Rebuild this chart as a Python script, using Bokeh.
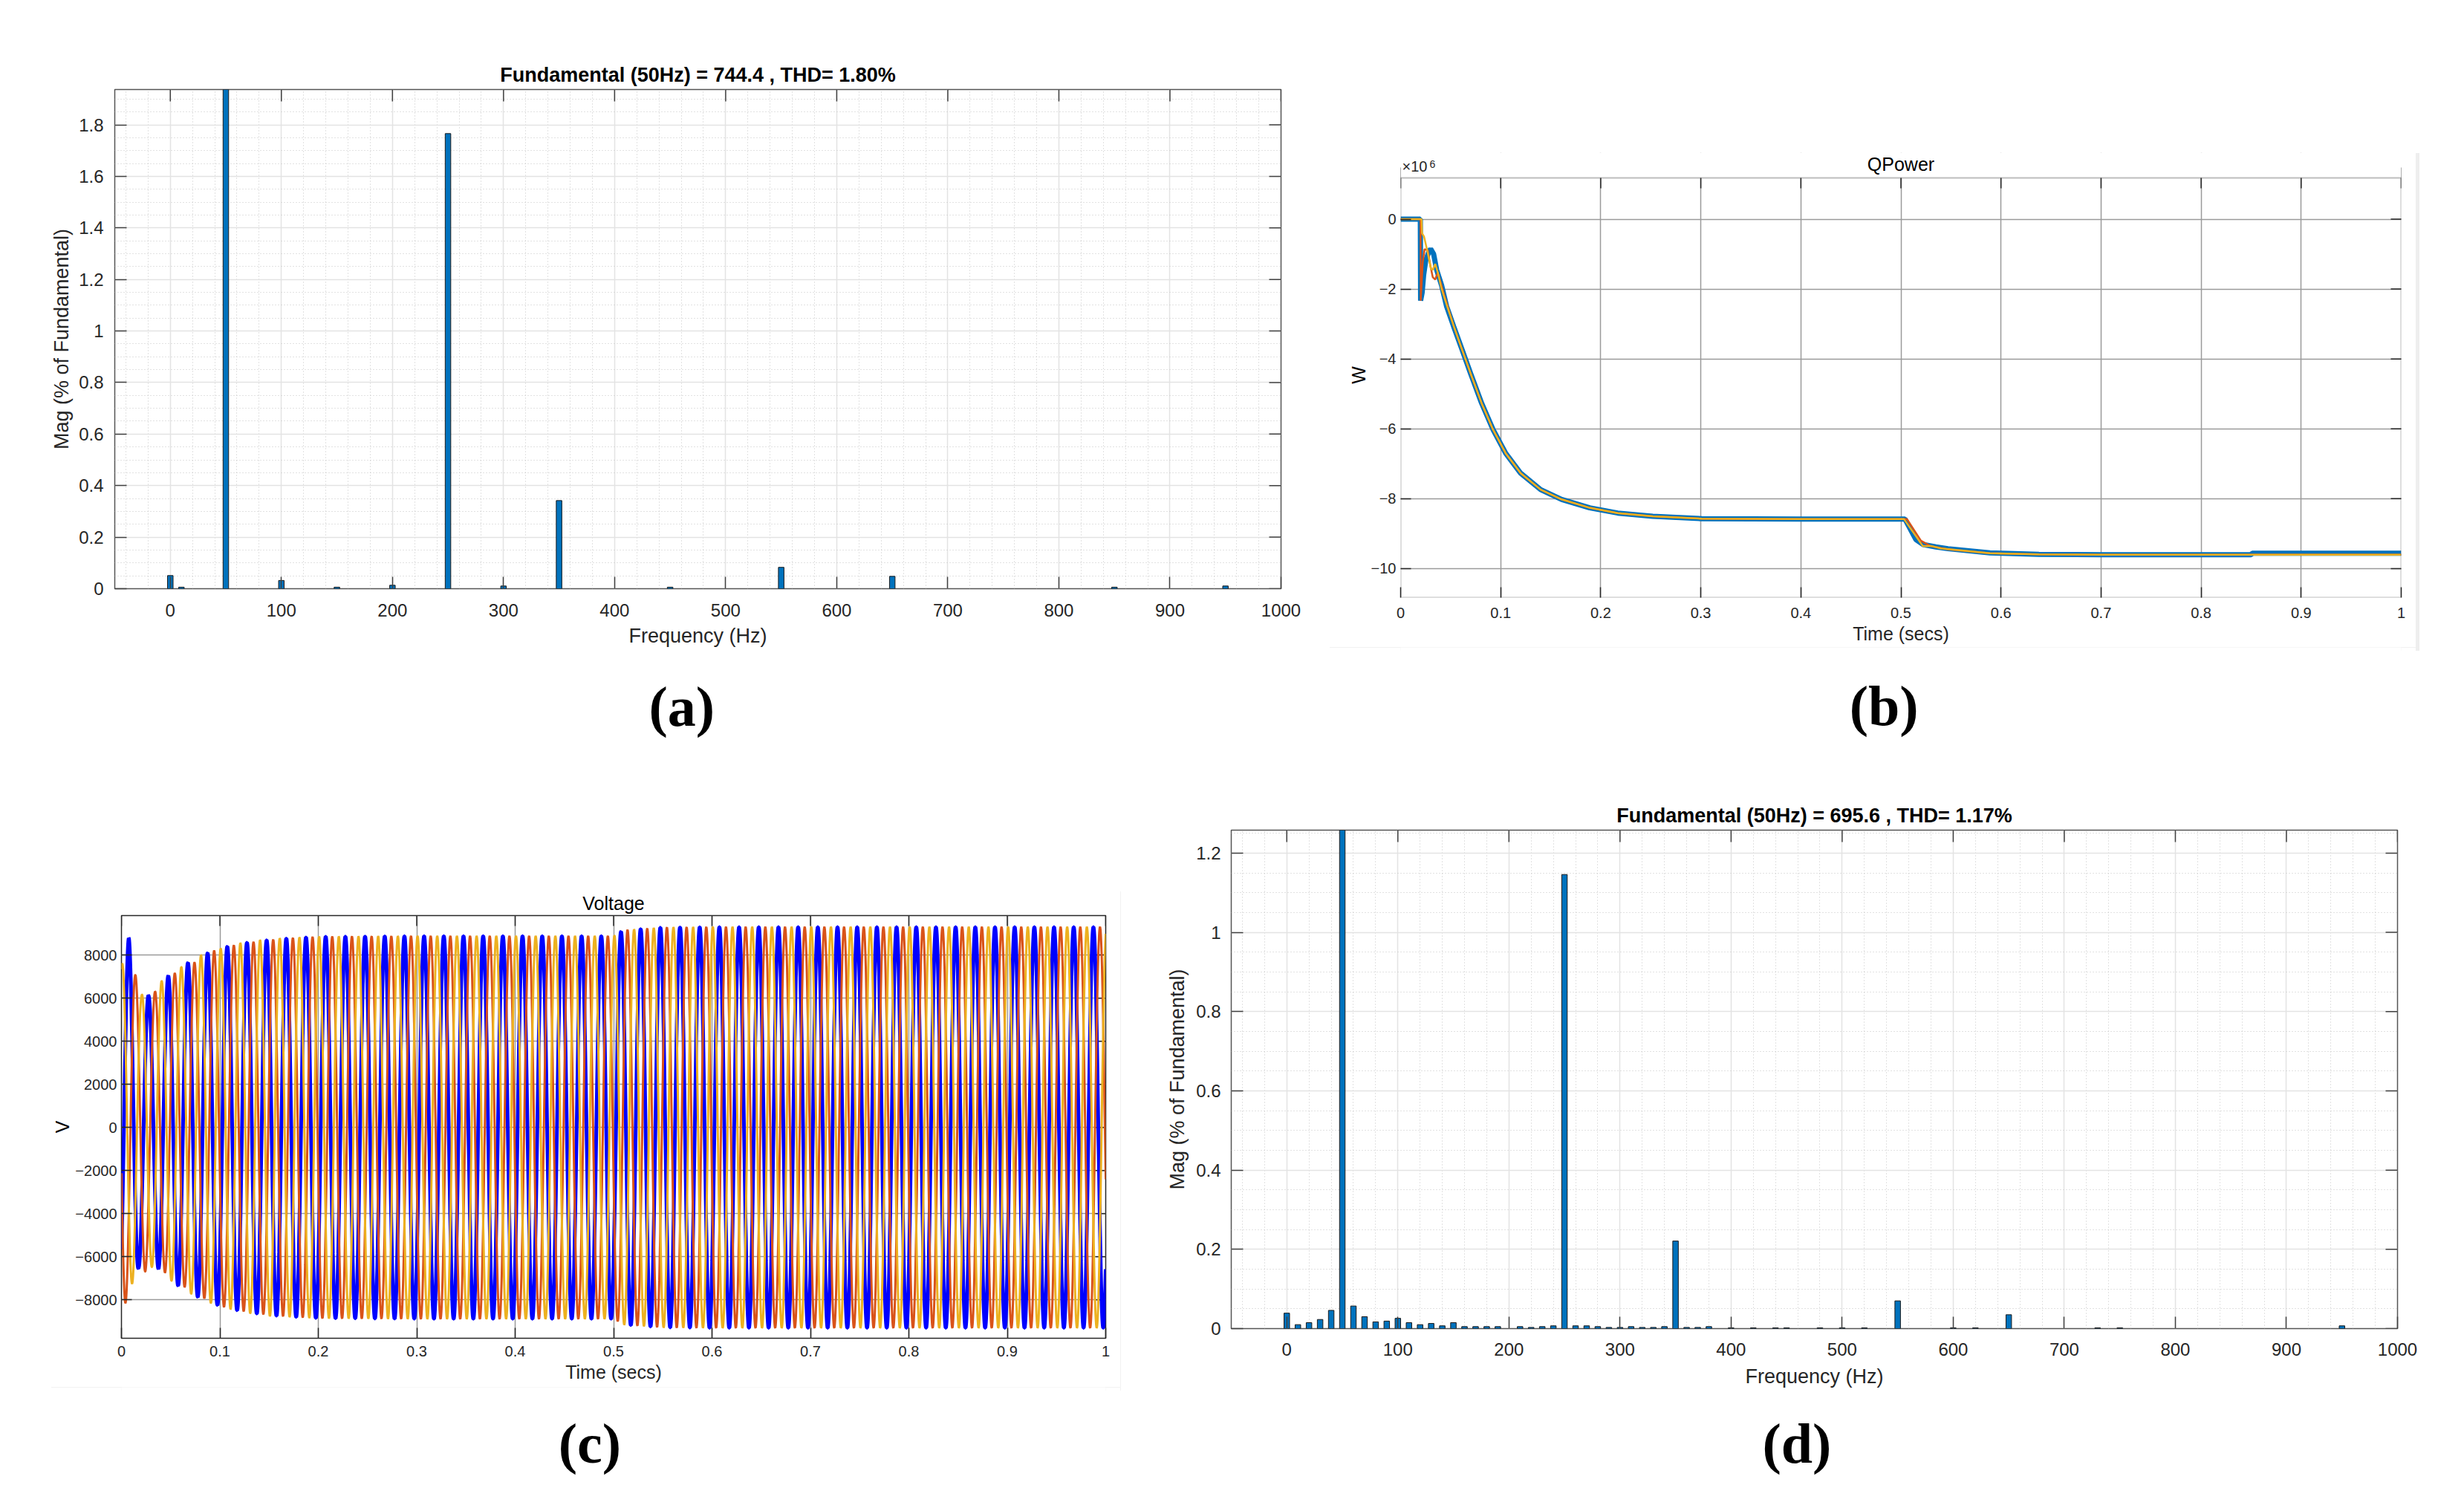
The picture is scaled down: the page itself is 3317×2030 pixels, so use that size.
import numpy as np
from bokeh.plotting import figure
from bokeh.models import Range1d, FixedTicker, Label, BoxAnnotation, Spacer
from bokeh.layouts import row, column
from bokeh.embed import file_html
from bokeh.resources import INLINE

SANS = "Liberation Sans"
SERIF = "Liberation Serif"
INK = "#262626"
BAR_BLUE = "#0072BD"
M_BLUE = "#0072BD"
M_RED = "#D95319"
M_YEL = "#EDB120"
V_BLUE = "#0000FF"

# ---------------- (a) FFT spectrum ----------------
a_title = "Fundamental (50Hz) = 744.4 , THD= 1.80%"
a_freq = [0, 10, 50, 100, 150, 200, 250, 300, 350, 450, 550, 650, 850, 950]
a_mag = [0.051, 0.006, 100.0, 0.032, 0.006, 0.0135, 1.766, 0.0105, 0.342, 0.006, 0.083, 0.048, 0.006, 0.0105]
a_yticks = [0, 0.2, 0.4, 0.6, 0.8, 1.0, 1.2, 1.4, 1.6, 1.8]
a_ytop = 1.937

# ---------------- (d) FFT spectrum ----------------
d_title = "Fundamental (50Hz) = 695.6 , THD= 1.17%"
d_freq = [0, 10, 20, 30, 40, 50, 60, 70, 80, 90, 100, 110, 120, 130, 140, 150, 160, 170, 180, 190,
          210, 220, 230, 240, 250, 260, 270, 280, 290, 300, 310, 320, 330, 340, 350, 360, 370, 380,
          400, 420, 440, 450, 480, 500, 520,
          550, 600, 620, 650, 730, 750, 950]
d_mag = [0.039, 0.010, 0.015, 0.023, 0.046, 100.0, 0.057, 0.030, 0.017, 0.019, 0.026, 0.015, 0.010, 0.013, 0.007, 0.015, 0.005, 0.005, 0.005, 0.005,
         0.005, 0.003, 0.005, 0.007, 1.146, 0.007, 0.007, 0.005, 0.003, 0.003, 0.005, 0.003, 0.003, 0.005, 0.221, 0.003, 0.003, 0.005,
         0.002, 0.002, 0.002, 0.002, 0.002, 0.002, 0.002,
         0.070, 0.002, 0.002, 0.035, 0.002, 0.002, 0.007]
d_yticks = [0, 0.2, 0.4, 0.6, 0.8, 1.0, 1.2]
d_ytop = 1.258
assert len(d_freq) == len(d_mag)

freq_ticks = list(range(0, 1001, 100))
time_ticks = [round(0.1 * i, 1) for i in range(11)]

# ---------------- (b) QPower (x10^6 W) ----------------
q_title = "QPower"
q_scale_base = "×10"
q_scale_exp = "6"
qb_t = [0.0, 0.0197, 0.0200, 0.0215, 0.023, 0.025, 0.028, 0.030, 0.033, 0.036, 0.041, 0.046, 0.053, 0.061,
        0.070, 0.081, 0.0925, 0.105, 0.120, 0.140, 0.161, 0.189, 0.217, 0.252, 0.301, 0.400, 0.504, 0.515,
        0.522, 0.535, 0.547, 0.589, 0.638, 0.700, 0.850, 0.851, 1.0]
qb_q = [0.0, 0.0, -2.33, -2.1, -1.6, -1.2, -0.95, -0.85, -1.0, -1.45, -1.9, -2.5, -3.07, -3.7,
        -4.42, -5.27, -6.03, -6.7, -7.27, -7.74, -8.02, -8.26, -8.41, -8.5, -8.57, -8.58, -8.58, -9.17,
        -9.31, -9.38, -9.43, -9.55, -9.59, -9.6, -9.6, -9.56, -9.56]
qr_t = [0.0, 0.0199, 0.0201, 0.0221, 0.0239, 0.0271, 0.0296, 0.0321, 0.0346, 0.0371, 0.0433, 0.0532, 0.061,
        0.070, 0.081, 0.0925, 0.105, 0.120, 0.140, 0.161, 0.189, 0.217, 0.252, 0.301, 0.400, 0.506, 0.520,
        0.530, 0.547, 0.589, 0.638, 0.700, 1.0]
qr_q = [0.0, 0.0, -2.33, -1.24, -0.86, -0.89, -1.31, -1.66, -1.73, -1.52, -2.15, -3.07, -3.7,
        -4.42, -5.27, -6.03, -6.7, -7.27, -7.74, -8.02, -8.26, -8.41, -8.5, -8.57, -8.58, -8.58, -9.2,
        -9.36, -9.45, -9.56, -9.59, -9.6, -9.6]
qy_t = [0.0, 0.0209, 0.0214, 0.0234, 0.0271, 0.0303, 0.0321, 0.0346, 0.0371, 0.0408, 0.0458, 0.0532, 0.061,
        0.070, 0.081, 0.0925, 0.105, 0.120, 0.140, 0.161, 0.189, 0.217, 0.252, 0.301, 0.400, 0.503, 0.522,
        0.530, 0.540, 0.589, 0.638, 0.700, 1.0]
qy_q = [0.0, 0.0, -0.40, -0.50, -0.96, -1.42, -1.45, -1.28, -1.52, -1.98, -2.43, -3.07, -3.7,
        -4.42, -5.27, -6.03, -6.7, -7.27, -7.74, -8.02, -8.26, -8.41, -8.5, -8.57, -8.58, -8.58, -9.36,
        -9.35, -9.42, -9.56, -9.59, -9.6, -9.6]
q_yticks = [-10, -8, -6, -4, -2, 0]
q_ymin, q_ymax = -10.83, 1.18          # axes limits of the scope
q_head = 0.723                          # room above the axes box (title + exponent) in data units

# ---------------- (c) Voltage: 50 Hz three-phase, peak envelopes ----------------
v_freq = 50.0
v_phase = {"blue": -np.pi / 4, "red": -np.pi / 4 - 2 * np.pi / 3, "yellow": -np.pi / 4 + 2 * np.pi / 3}
vb_env_t = [0.0, 0.0075, 0.0175, 0.028, 0.048, 0.068, 0.088, 0.108, 0.13, 0.16, 0.2, 0.3, 0.5, 0.51, 0.55, 0.6, 1.0]
vb_env_a = [8000, 8800, 6500, 6100, 7050, 7650, 8100, 8400, 8600, 8750, 8850, 8880, 8880, 9150, 9280, 9300, 9300]
vr_env_t = [0.0, 0.0036, 0.0136, 0.034, 0.054, 0.074, 0.094, 0.114, 0.14, 0.17, 0.2, 0.3, 0.5, 0.51, 0.55, 0.6, 1.0]
vr_env_a = [8200, 8200, 7100, 6300, 7150, 7650, 8200, 8450, 8650, 8780, 8850, 8880, 8880, 9150, 9280, 9300, 9300]
vy_env_t = [0.0, 0.0017, 0.012, 0.0204, 0.041, 0.061, 0.081, 0.101, 0.12, 0.15, 0.2, 0.3, 0.5, 0.51, 0.55, 0.6, 1.0]
vy_env_a = [7600, 7600, 7200, 6150, 6800, 7450, 8000, 8300, 8550, 8750, 8850, 8880, 8880, 9150, 9280, 9300, 9300]
v_yticks = [-8000, -6000, -4000, -2000, 0, 2000, 4000, 6000, 8000]
v_ymin, v_ymax = -9780, 9830

t_v = np.arange(0.0, 1.00001, 0.0002)


def wave(env_t, env_a, phase):
    amp = np.interp(t_v, env_t, env_a)
    return amp * np.sin(2 * np.pi * v_freq * t_v + phase)


def inner_ticks(p, xs_top, y_top, ys_right, x_right, length, color):
    # MATLAB-style box ticks on the top and right edges (half of each dash is clipped by the frame)
    p.scatter(x=xs_top, y=[y_top] * len(xs_top), marker="dash", size=2 * length, angle=np.pi / 2,
              line_color=color, line_width=1.5)
    p.scatter(x=[x_right] * len(ys_right), y=ys_right, marker="dash", size=2 * length,
              line_color=color, line_width=1.5)


def style_axes(p, tick_font, lab_font, tick_len, tick_color, xstand, xlabstand, ystand, ylabstand):
    for ax in (p.xaxis[0], p.yaxis[0]):
        ax.major_label_text_font = SANS
        ax.major_label_text_font_size = tick_font
        ax.major_label_text_color = INK
        ax.axis_label_text_font = SANS
        ax.axis_label_text_font_size = lab_font
        ax.axis_label_text_font_style = "normal"
        ax.axis_label_text_color = INK
        ax.major_tick_in = tick_len
        ax.major_tick_out = 0
        ax.major_tick_line_color = tick_color
        ax.major_tick_line_width = 1.5
        ax.minor_tick_line_color = None
        ax.axis_line_color = None
    p.xaxis[0].major_label_standoff = xstand
    p.xaxis[0].axis_label_standoff = xlabstand
    p.yaxis[0].major_label_standoff = ystand
    p.yaxis[0].axis_label_standoff = ylabstand


def spectrum(freq, mag, title, ytop, yticks, w, h, bl, br, bt, bb, xst, xlst, yst, ylst):
    p = figure(width=w, height=h, x_range=Range1d(-50, 1000), y_range=Range1d(0, ytop),
               output_backend="svg", toolbar_location=None, title=title,
               min_border_left=bl, min_border_right=br, min_border_top=bt, min_border_bottom=bb)
    p.title.text_font = SANS
    p.title.text_font_size = "27px"
    p.title.text_font_style = "bold"
    p.title.text_color = "#000000"
    p.title.align = "center"
    p.title.standoff = 10
    xt = FixedTicker(ticks=freq_ticks, minor_ticks=list(range(-40, 1001, 20)))
    nmin = int(ytop / 0.05) + 1
    yt = FixedTicker(ticks=yticks, minor_ticks=[round(0.05 * i, 2) for i in range(nmin)])
    p.xaxis.ticker = xt
    p.yaxis.ticker = yt
    p.xgrid.ticker = xt
    p.ygrid.ticker = yt
    for g in (p.xgrid[0], p.ygrid[0]):
        g.grid_line_color = "#E3E3E3"
        g.grid_line_width = 1.5
        g.minor_grid_line_color = "#C4C4C4"
        g.minor_grid_line_width = 1
        g.minor_grid_line_dash = "1 3"
    p.vbar(x=freq, top=mag, width=5, fill_color=BAR_BLUE, line_color="#1A1A1A", line_width=1)
    p.xaxis.axis_label = "Frequency (Hz)"
    p.yaxis.axis_label = "Mag (% of Fundamental)"
    style_axes(p, "24px", "27px", 16, "#404040", xst, xlst, yst, ylst)
    p.yaxis[0].major_label_overrides = {0: "0", 1: "1"}
    p.outline_line_color = "#555555"
    p.outline_line_width = 1.5
    inner_ticks(p, freq_ticks, ytop, yticks, 1000, 16, "#404040")
    return p


def scope(title, ymin, ymax, yticks, ylabel, w, h, bl, br, bt, bb, xst, xlst, yst, ylst, head=0.0):
    kw = {} if title is None else {"title": title}
    p = figure(width=w, height=h, x_range=Range1d(0, 1), y_range=Range1d(ymin, ymax + head),
               output_backend="svg", toolbar_location=None,
               min_border_left=bl, min_border_right=br, min_border_top=bt, min_border_bottom=bb,
               styles={"box-shadow": "5px 5px 0px #EEEEEE"}, **kw)
    if title is not None:
        p.title.text_font = SANS
        p.title.text_font_size = "25px"
        p.title.text_font_style = "normal"
        p.title.text_color = "#000000"
        p.title.align = "center"
        p.title.standoff = 5
    xt = FixedTicker(ticks=time_ticks)
    yt = FixedTicker(ticks=yticks)
    p.xaxis.ticker = xt
    p.yaxis.ticker = yt
    p.xgrid.ticker = xt
    p.ygrid.ticker = yt
    for g in (p.xgrid[0], p.ygrid[0]):
        g.grid_line_color = "#9A9A9A"
        g.grid_line_width = 1.5
    p.xaxis.axis_label = "Time (secs)"
    p.yaxis.axis_label = ylabel
    style_axes(p, "20px", "25px", 14, INK, xst, xlst, yst, ylst)
    p.yaxis[0].axis_label_text_font_size = "25px"
    p.yaxis[0].axis_label_text_color = "#000000"
    p.xaxis[0].major_label_overrides = {0: "0", 1: "1"}
    if head > 0:
        p.outline_line_color = None
    else:
        p.outline_line_color = INK
        p.outline_line_width = 1.5
    inner_ticks(p, time_ticks, ymax, yticks, 1, 14, INK)
    return p


def label_fig(w, h, x, y, txt):
    f = figure(width=w, height=h, x_range=Range1d(0, 1), y_range=Range1d(0, 1),
               x_axis_type=None, y_axis_type=None,
               output_backend="svg", toolbar_location=None, min_border=0,
               min_border_left=0, min_border_right=0, min_border_top=0, min_border_bottom=0)
    f.grid.visible = False
    f.outline_line_color = None
    f.add_layout(Label(x=x, y=y, text=txt, text_font=SERIF, text_font_style="bold",
                       text_font_size="76px", text_align="center", text_baseline="middle",
                       text_color="#000000"))
    return f


# ---- panel (a)
fa = spectrum(a_freq, a_mag, a_title, a_ytop, a_yticks, 1777, 892, 146, 61, 112, 108, 16, 8, 11, 5)
la = label_fig(1777, 100, 0.4862, 0.5, "(a)")

# ---- panel (b)
fb = scope(None, q_ymin, q_ymax, q_yticks, "W", 1467, 670, 100, 20, 4, 67, 13, 4, 6, 0, head=q_head)
fb.line(qb_t, qb_q, line_color=M_BLUE, line_width=7)
fb.line(qr_t, qr_q, line_color=M_RED, line_width=2.5)
fb.line(qy_t, qy_q, line_color=M_YEL, line_width=2.5)
# blank the head room above the axes box, then draw the box, title and exponent
fb.add_layout(BoxAnnotation(bottom=q_ymax, fill_color="white", fill_alpha=1.0, line_color=None))
fb.add_layout(BoxAnnotation(top=q_ymax, fill_alpha=0.0, line_color=INK, line_width=2))
fb.add_layout(Label(x=0.5, y=q_ymax, y_offset=19, text=q_title, text_font=SANS, text_font_size="25px",
                    text_color="#000000", text_align="center", text_baseline="middle"))
fb.add_layout(Label(x=0, y=q_ymax, x_offset=2, y_offset=5, text=q_scale_base, text_font=SANS,
                    text_font_size="20px", text_color=INK, text_baseline="bottom", text_align="left"))
fb.add_layout(Label(x=0, y=q_ymax, x_offset=39, y_offset=14, text=q_scale_exp, text_font=SANS,
                    text_font_size="14px", text_color=INK, text_baseline="bottom", text_align="left"))
lb = label_fig(1467, 129, 0.4831, 0.388, "(b)")

# ---- panel (c)
fc = scope("Voltage", v_ymin, v_ymax, v_yticks, "V", 1444, 672, 99, 20, 37, 66, 10, 4, 6, 0)
fc.line(t_v, wave(vb_env_t, vb_env_a, v_phase["blue"]), line_color=V_BLUE, line_width=5)
fc.line(t_v, wave(vr_env_t, vr_env_a, v_phase["red"]), line_color=M_RED, line_width=3)
fc.line(t_v, wave(vy_env_t, vy_env_a, v_phase["yellow"]), line_color=M_YEL, line_width=3)
lc = label_fig(1444, 133, 0.4757, 0.436, "(c)")

# ---- panel (d)
fd = spectrum(d_freq, d_mag, d_title, d_ytop, d_yticks, 1769, 890, 149, 50, 117, 102, 15, 10, 10, 7)
ld = label_fig(1769, 110, 0.4850, 0.527, "(d)")

top = row(column(fa, la), column(Spacer(width=1467, height=193), fb, lb))
bottom = row(Spacer(width=56, height=10), column(Spacer(width=1444, height=195), fc, lc), column(fd, ld))
layout = column(Spacer(width=10, height=8), row(Spacer(width=8, height=10), column(top, bottom)))

open("out.html", "w").write(file_html(layout, INLINE))
